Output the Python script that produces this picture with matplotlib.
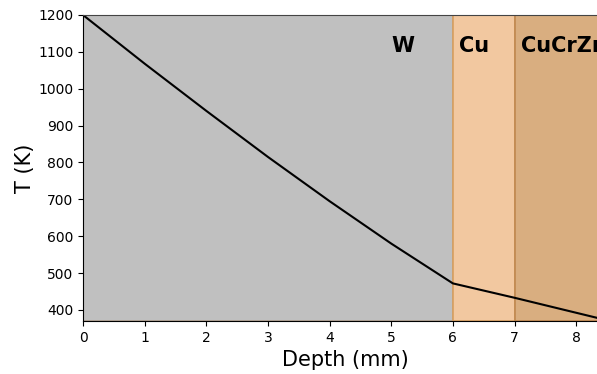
# Профіль температури по глибині: W / Cu / CuCrZr
import numpy as np
import matplotlib.pyplot as plt

depth = [0, 1, 2, 3, 4, 5, 6, 7, 8.5]
temp = [1200, 1068, 940, 815, 695, 580, 472, 433, 372]

layers = ["W", "Cu", "CuCrZr"]
bounds = [(0, 6), (6, 7), (7, 8.5)]
colors = ["#c0c0c0", "#f2c8a0", "#d9ae80"]
edges = ["#b0a090", "#d8a060", "#c08850"]

fig = plt.figure(figsize=(5.97, 3.74), dpi=100)
# вісь трохи виходить за правий край, як в оригіналі
ax = fig.add_axes([83 / 597, 53 / 374, (607 - 83) / 597, 306 / 374])

for (a, b), c, e in zip(bounds, colors, edges):
    ax.axvspan(a, b, facecolor=c, edgecolor=e, linewidth=1.2, zorder=0)

ax.plot(depth, temp, color="black", linewidth=1.5)

label_x = [5.0, 6.1, 7.1]
for name, lx in zip(layers, label_x):
    ax.text(lx, 1117, name, fontsize=15, fontweight="bold", va="center", ha="left")

ax.set_xlim(0, 8.5)
ax.set_ylim(370, 1200)
ax.set_xticks(range(0, 9))
ax.set_yticks(range(400, 1201, 100))
ax.set_xlabel("Depth (mm)", fontsize=15)
ax.set_ylabel("T (K)", fontsize=15, labelpad=2)
ax.spines["right"].set_visible(False)
ax.spines["top"].set_color("#444444")

fig.savefig("out.png", dpi=100)
